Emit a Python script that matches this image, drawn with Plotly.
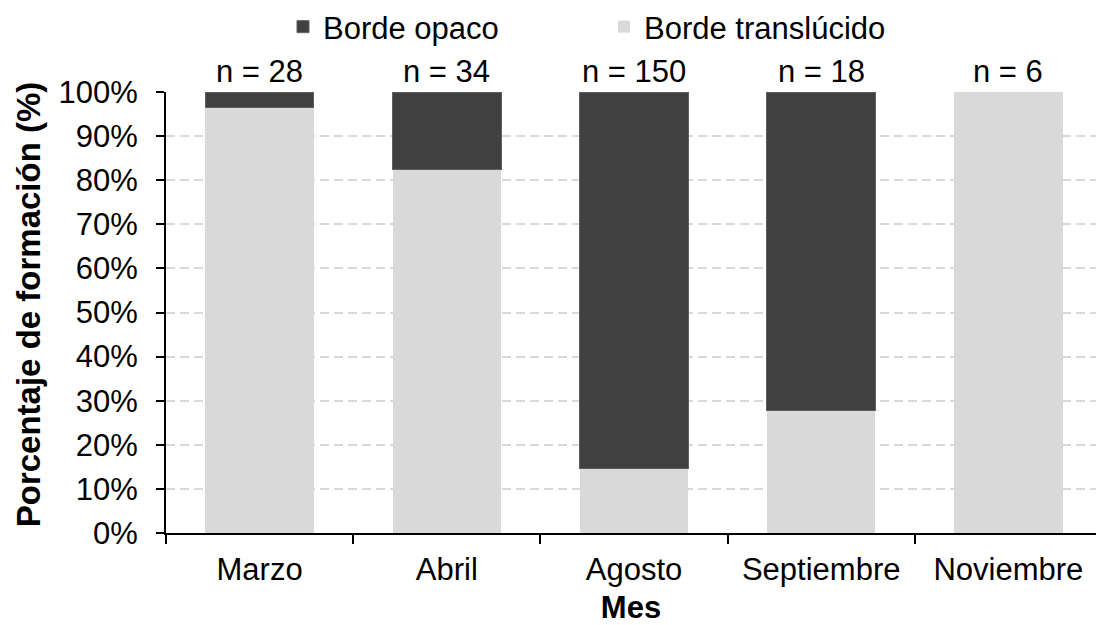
import plotly.graph_objects as go

meses = ["Marzo", "Abril", "Agosto", "Septiembre", "Noviembre"]
n_total = [28, 34, 150, 18, 6]
translucido = [96.4, 82.4, 14.7, 27.8, 100.0]
opaco = [3.6, 17.6, 85.3, 72.2, 0.0]
y_ticks = [0, 10, 20, 30, 40, 50, 60, 70, 80, 90, 100]
y_ticktext = [f"{v}%" for v in y_ticks]
n_labels = [f"n = {v}" for v in n_total]

FONT = "Arial, Liberation Sans, sans-serif"
W, H = 1096, 625
L, R, T, B = 165.5, 0, 92.3, 91.7

fig = go.Figure()
fig.add_trace(go.Bar(
    x=meses, y=translucido, name="Borde translúcido",
    marker=dict(color="#d9d9d9", line=dict(width=0)),
    width=0.58, legendrank=2,
))
fig.add_trace(go.Bar(
    x=meses, y=opaco, name="Borde opaco",
    marker=dict(color="#404040",
                line=dict(color="#5f5f5f", width=[1 if v > 0 else 0 for v in opaco])),
    width=0.58, legendrank=1,
))

for m, lab in zip(meses, n_labels):
    fig.add_annotation(x=m, y=100, xref="x", yref="y", text=lab,
                       showarrow=False, yanchor="bottom", yshift=1,
                       font=dict(family=FONT, size=31, color="black"))

plot_w = W - L - R
plot_h = H - T - B
fig.add_annotation(
    text="<b>Porcentaje de formación (%)</b>", textangle=-90,
    xref="paper", yref="paper",
    x=(28 - L) / plot_w, y=(H - B - 305) / plot_h,
    xanchor="center", yanchor="middle", showarrow=False,
    font=dict(family=FONT, size=33, color="black"),
)

fig.update_layout(
    barmode="stack",
    width=W, height=H,
    margin=dict(l=L, r=R, t=T, b=B, pad=0),
    paper_bgcolor="white", plot_bgcolor="white",
    font=dict(family=FONT, size=31, color="black"),
    showlegend=True,
    legend=dict(orientation="h", xref="container", x=0.5511, xanchor="center",
                yref="container", y=1.0, yanchor="top",
                font=dict(family=FONT, size=31, color="black"),
                entrywidth=276, itemclick=False, traceorder="normal",
                bgcolor="rgba(0,0,0,0)"),
)
fig.update_xaxes(
    type="category", range=[-0.5, 4.468],
    showline=True, linecolor="black", linewidth=2,
    ticks="outside", ticklen=9, tickwidth=2, tickcolor="black",
    tickson="boundaries", showgrid=False, ticklabelstandoff=8,
    tickfont=dict(family=FONT, size=31, color="black"),
    title=dict(text="<b>Mes</b>", font=dict(family=FONT, size=31, color="black"), standoff=15),
    automargin=False,
)
fig.update_yaxes(
    range=[0, 100], tickvals=y_ticks, ticktext=y_ticktext,
    showline=True, linecolor="black", linewidth=2,
    ticks="outside", ticklen=8, tickwidth=2, tickcolor="black",
    showgrid=True, gridcolor="#d9d9d9", gridwidth=1.5, griddash="9px,5px",
    zeroline=False, ticklabelstandoff=12,
    tickfont=dict(family=FONT, size=31, color="black"),
    automargin=False,
)

fig.write_html("out.html", config={"displayModeBar": False},
               post_script="document.body.style.margin='0';")
